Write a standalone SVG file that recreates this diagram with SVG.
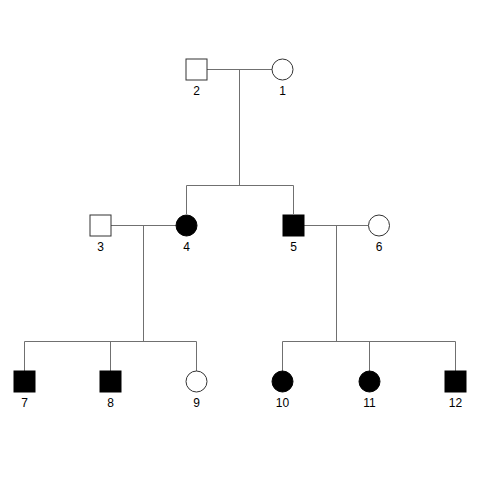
<svg xmlns="http://www.w3.org/2000/svg" width="480" height="480" viewBox="0 0 480 480">
<style>
.ln{stroke:#707070;stroke-width:1;fill:none}
.open{fill:#fff;stroke:#333;stroke-width:1}
.aff{fill:#000;stroke:#000;stroke-width:1}
.lbl{font-family:"Liberation Sans",Arial,sans-serif;font-size:12px;fill:#000;text-anchor:middle}
</style>
<rect width="480" height="480" fill="#fff"/>
<g id="connectors">
<path class="ln" d="M207 69.5H272 M239.5 69.5V185.5 M186.5 214V185.5H293.5V214"/>
<path class="ln" d="M111 225.5H176 M143.5 225.5V341.5 M24.5 371V341.5H196.5V371 M110.5 341.5V371"/>
<path class="ln" d="M304 225.5H368 M336.5 225.5V341.5 M282.5 371V341.5H455.5V371 M369.5 341.5V371"/>
</g>
<g id="n2"><rect class="open" x="186" y="59" width="21" height="21"/><text class="lbl" x="196.5" y="95">2</text></g>
<g id="n1"><circle class="open" cx="282.5" cy="69.5" r="10.5"/><text class="lbl" x="282.5" y="95">1</text></g>
<g id="n3"><rect class="open" x="90" y="215" width="21" height="21"/><text class="lbl" x="100.5" y="251">3</text></g>
<g id="n4"><circle class="aff" cx="186.5" cy="225.5" r="10.5"/><text class="lbl" x="186.5" y="251">4</text></g>
<g id="n5"><rect class="aff" x="283" y="215" width="21" height="21"/><text class="lbl" x="293.5" y="251">5</text></g>
<g id="n6"><circle class="open" cx="379" cy="225.5" r="10.5"/><text class="lbl" x="379" y="251">6</text></g>
<g id="n7"><rect class="aff" x="14" y="371" width="21" height="21"/><text class="lbl" x="24.5" y="407">7</text></g>
<g id="n8"><rect class="aff" x="100" y="371" width="21" height="21"/><text class="lbl" x="110.5" y="407">8</text></g>
<g id="n9"><circle class="open" cx="196.5" cy="381.5" r="10.5"/><text class="lbl" x="196.5" y="407">9</text></g>
<g id="n10"><circle class="aff" cx="282.5" cy="381.5" r="10.5"/><text class="lbl" x="282.5" y="407">10</text></g>
<g id="n11"><circle class="aff" cx="369.5" cy="381.5" r="10.5"/><text class="lbl" x="369.5" y="407">11</text></g>
<g id="n12"><rect class="aff" x="445" y="371" width="21" height="21"/><text class="lbl" x="455.5" y="407">12</text></g>
</svg>
